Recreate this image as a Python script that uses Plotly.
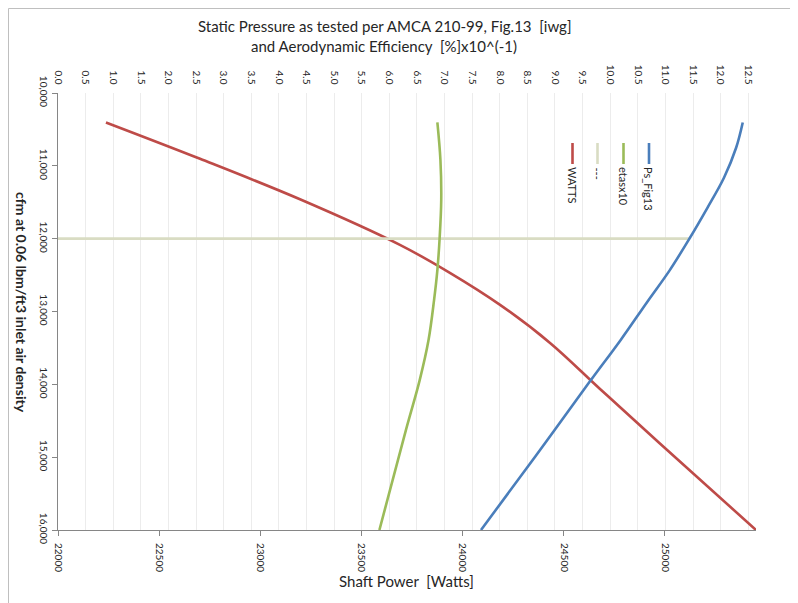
import plotly.graph_objects as go

# ---------------- data ----------------
watts_cfm = [10404, 10903, 11459, 12085, 12469, 12909, 13431, 14063, 14812, 16000]
watts_val = [22237, 22702, 23196, 23690, 23937, 24185, 24432, 24679, 24975, 25450]

eta_cfm = [10404, 10916, 11465, 12005, 12431, 12843, 13392, 13942, 14629, 16000]
eta_val = [6.87, 6.925, 6.94, 6.91, 6.87, 6.81, 6.71, 6.55, 6.30, 5.82]

ps_cfm = [10404, 10752, 11164, 11576, 12005, 12442, 12868, 13390, 13962, 14983, 16000]
ps_val = [12.40, 12.28, 12.06, 11.76, 11.43, 11.07, 10.67, 10.19, 9.63, 8.65, 7.66]

ref_cfm = [12000, 12000]
ref_val = [0.0, 11.42]

cfm_ticks = [10000, 11000, 12000, 13000, 14000, 15000, 16000]
watt_ticks = [22000, 22500, 23000, 23500, 24000, 24500, 25000]

series_names = ["WATTS", "---", "etasx10", "Ps_Fig13"]
series_colors = ["#be4b48", "#d9dcc3", "#9bbb59", "#4a7ebb"]

# ---------------- layout geometry (page pixels) ----------------
OFF = 8                      # body margin of the html page
PW, PH = 798, 603
L, R, T, B = 58, 756, 93, 530
W, H = PW - OFF, PH - OFF


def px_x(x):
    return (x - L) / (R - L)


def px_y(y):
    return (B - y) / (B - T)


FONT = "Lato, 'Open Sans', sans-serif"
TXT = "#262626"

fig = go.Figure()

fig.add_trace(go.Scatter(x=watts_val, y=watts_cfm, mode="lines", name=series_names[0],
                         line=dict(color=series_colors[0], width=2.6, shape="spline", smoothing=1.0),
                         xaxis="x", yaxis="y"))
fig.add_trace(go.Scatter(x=ref_val, y=ref_cfm, mode="lines", name=series_names[1],
                         line=dict(color=series_colors[1], width=2.8), xaxis="x2", yaxis="y"))
fig.add_trace(go.Scatter(x=eta_val, y=eta_cfm, mode="lines", name=series_names[2],
                         line=dict(color=series_colors[2], width=2.6, shape="spline", smoothing=1.0),
                         xaxis="x2", yaxis="y"))
fig.add_trace(go.Scatter(x=ps_val, y=ps_cfm, mode="lines", name=series_names[3],
                         line=dict(color=series_colors[3], width=2.6, shape="spline", smoothing=1.0),
                         xaxis="x2", yaxis="y"))

annotations = [
    dict(text="Static Pressure as tested per AMCA 210-99, Fig.13  [iwg]", x=px_x(384), y=px_y(26),
         xref="paper", yref="paper", showarrow=False, xanchor="center", yanchor="middle",
         font=dict(family=FONT, size=15, color=TXT)),
    dict(text="and Aerodynamic Efficiency  [%]x10^(-1)", x=px_x(384), y=px_y(46),
         xref="paper", yref="paper", showarrow=False, xanchor="center", yanchor="middle",
         font=dict(family=FONT, size=15, color=TXT)),
    dict(text="Shaft Power  [Watts]", x=px_x(406), y=px_y(581),
         xref="paper", yref="paper", showarrow=False, xanchor="center", yanchor="middle",
         font=dict(family=FONT, size=15, color=TXT)),
    dict(text="<b>cfm at 0.06 lbm/ft3 inlet air density</b>", x=px_x(22), y=px_y(302), textangle=90,
         xref="paper", yref="paper", showarrow=False, xanchor="center", yanchor="middle",
         font=dict(family=FONT, size=14, color=TXT)),
]

shapes = [
    dict(type="rect", xref="paper", yref="paper", x0=px_x(8.5), x1=px_x(810), y0=px_y(615), y1=px_y(8.5),
         line=dict(color="#bfbfbf", width=1), fillcolor="rgba(0,0,0,0)", layer="below"),
]

leg_x = [572.5, 597.5, 623.5, 649]
for name, col, lx in zip(series_names, series_colors, leg_x):
    shapes.append(dict(type="line", xref="paper", yref="paper", x0=px_x(lx), x1=px_x(lx),
                       y0=px_y(143), y1=px_y(164), line=dict(color=col, width=2.6)))
    annotations.append(dict(text=name, x=px_x(lx), y=px_y(165), textangle=90, xref="paper", yref="paper",
                            showarrow=False, xanchor="center", yanchor="top",
                            font=dict(family=FONT, size=11, color=TXT)))

fig.update_layout(
    width=W, height=H,
    margin=dict(l=L - OFF, r=PW - R, t=T - OFF, b=PH - B, pad=0),
    paper_bgcolor="white", plot_bgcolor="white",
    showlegend=False,
    font=dict(family=FONT, size=10, color=TXT),
    xaxis=dict(range=[22000, 25450], tickvals=watt_ticks, ticktext=[str(v) for v in watt_ticks],
               tickangle=90, showgrid=False, zeroline=False, showline=True, linecolor="#868686",
               linewidth=1, ticks="outside", ticklen=5, tickcolor="#868686", automargin=False,
               ticklabelstandoff=5,
               tickfont=dict(family=FONT, size=10, color=TXT)),
    xaxis2=dict(range=[0, 12.64], overlaying="x", side="top", dtick=0.5, tick0=0, tickformat=".1f",
                tickangle=90, showgrid=True, gridcolor="#ececec", gridwidth=1, zeroline=False,
                showline=False, ticks="", automargin=False, ticklabelstandoff=6,
                tickfont=dict(family=FONT, size=10, color=TXT)),
    yaxis=dict(range=[16000, 10000], tickvals=cfm_ticks, tickformat=",", tickangle=90,
               showgrid=False, zeroline=False, showline=True, linecolor="#868686", linewidth=1,
               ticks="outside", ticklen=5, tickcolor="#868686", automargin=False,
               tickfont=dict(family=FONT, size=10, color=TXT)),
    annotations=annotations,
    shapes=shapes,
)

fig.write_html("out.html")
